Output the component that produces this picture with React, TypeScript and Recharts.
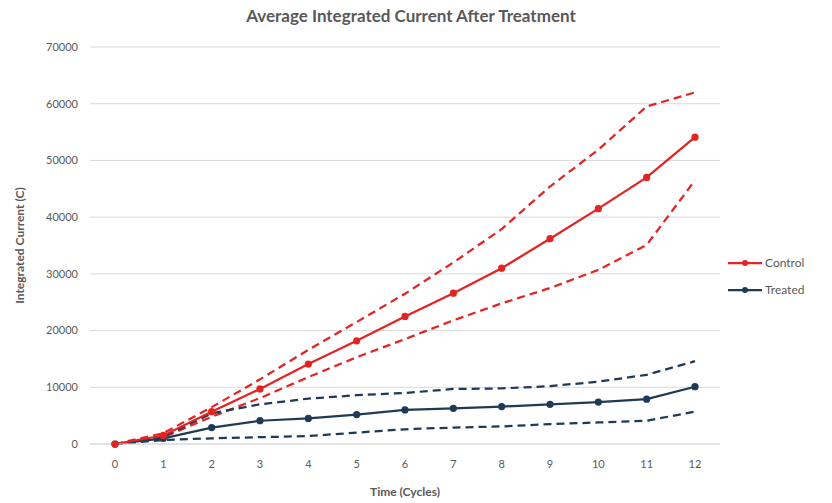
import { LineChart, Line, XAxis, YAxis, CartesianGrid } from 'recharts';

// Cycle numbers on the x axis
const cycles = [0, 1, 2, 3, 4, 5, 6, 7, 8, 9, 10, 11, 12];

// Control group: mean and dashed upper / lower bounds
const controlMean = [0, 1500, 5700, 9700, 14100, 18200, 22500, 26600, 31000, 36200, 41500, 47000, 54100];
const controlUpper = [0, 1900, 6500, 11400, 16600, 21500, 26500, 32000, 37900, 45400, 51900, 59500, 62000];
const controlLower = [0, 1200, 4800, 8100, 11800, 15300, 18500, 21800, 24800, 27500, 30700, 35100, 46500];

// Treated group: mean and dashed upper / lower bounds
const treatedMean = [0, 1000, 2900, 4100, 4500, 5200, 6000, 6300, 6600, 7000, 7400, 7900, 10100];
const treatedUpper = [0, 1300, 5400, 7000, 8000, 8600, 9000, 9700, 9800, 10200, 11000, 12200, 14600];
const treatedLower = [0, 700, 1000, 1200, 1400, 2000, 2600, 2900, 3100, 3500, 3800, 4100, 5700];

const yTicks = [0, 10000, 20000, 30000, 40000, 50000, 60000, 70000];

const RED = '#e42323';
const NAVY = '#1f3a57';
const TEXT = '#595959';
const FONT = 'Lato, "Open Sans", sans-serif';

const data = cycles.map((c, i) => ({
  cycle: c,
  controlMean: controlMean[i],
  controlUpper: controlUpper[i],
  controlLower: controlLower[i],
  treatedMean: treatedMean[i],
  treatedUpper: treatedUpper[i],
  treatedLower: treatedLower[i],
}));

const legendItems = [
  { label: 'Control', color: RED },
  { label: 'Treated', color: NAVY },
];

// Legend drawn outside the chart so it doesn't shrink the plot area
function ChartLegend() {
  return (
    <svg width={100} height={60} style={{ position: 'absolute', left: 728, top: 253 }}>
      {legendItems.map((item, i) => (
        <g key={item.label} transform={`translate(0, ${10 + i * 27})`}>
          <line x1={0} x2={34} y1={0} y2={0} stroke={item.color} strokeWidth={2.25} />
          <circle cx={17} cy={0} r={3} fill={item.color} />
          <text x={37} y={0} dy="0.35em" fontSize={12} fill={TEXT} fontFamily={FONT}>
            {item.label}
          </text>
        </g>
      ))}
    </svg>
  );
}

export default function App() {
  return (
    <div style={{ position: 'absolute', left: 0, top: 0, width: 832, height: 503, background: '#fff' }}>
      <div
        style={{
          position: 'absolute',
          top: 5,
          left: 0,
          width: 822,
          textAlign: 'center',
          fontFamily: FONT,
          fontWeight: 700,
          fontSize: 17,
          color: TEXT,
        }}
      >
        Average Integrated Current After Treatment
      </div>
      <LineChart
        width={832}
        height={503}
        data={data}
        margin={{ top: 47, right: 112, bottom: 29, left: 30 }}
      >
        <CartesianGrid vertical={false} stroke="#d9d9d9" />
        <XAxis
          dataKey="cycle"
          type="category"
          height={30}
          padding={{ left: 25, right: 25 }}
          axisLine={{ stroke: '#d9d9d9' }}
          tickLine={false}
          tickMargin={10}
          tick={{ fontSize: 11, fill: TEXT, fontFamily: FONT }}
          label={{
            value: 'Time (Cycles)',
            position: 'insideBottom',
            offset: -22,
            style: { fontSize: 12, fontWeight: 700, fill: TEXT, fontFamily: FONT },
          }}
        />
        <YAxis
          width={60}
          domain={[0, 70000]}
          ticks={yTicks}
          axisLine={false}
          tickLine={false}
          tickMargin={6}
          tick={{ fontSize: 11, fill: TEXT, fontFamily: FONT }}
          label={{
            value: 'Integrated Current (C)',
            angle: -90,
            position: 'insideLeft',
            offset: -10,
            style: { textAnchor: 'middle', fontSize: 12, fontWeight: 700, fill: TEXT, fontFamily: FONT },
          }}
        />
        <Line dataKey="controlUpper" stroke={RED} strokeWidth={2.25} strokeDasharray="8 5" dot={false} legendType="none" isAnimationActive={false} />
        <Line dataKey="controlLower" stroke={RED} strokeWidth={2.25} strokeDasharray="8 5" dot={false} legendType="none" isAnimationActive={false} />
        <Line dataKey="treatedUpper" stroke={NAVY} strokeWidth={2.25} strokeDasharray="8 5" dot={false} legendType="none" isAnimationActive={false} />
        <Line dataKey="treatedLower" stroke={NAVY} strokeWidth={2.25} strokeDasharray="8 5" dot={false} legendType="none" isAnimationActive={false} />
        <Line dataKey="treatedMean" stroke={NAVY} strokeWidth={2.25} dot={{ r: 2.5, fill: NAVY, stroke: NAVY }} isAnimationActive={false} />
        <Line dataKey="controlMean" stroke={RED} strokeWidth={2.25} dot={{ r: 2.5, fill: RED, stroke: RED }} isAnimationActive={false} />
      </LineChart>
      <ChartLegend />
    </div>
  );
}
